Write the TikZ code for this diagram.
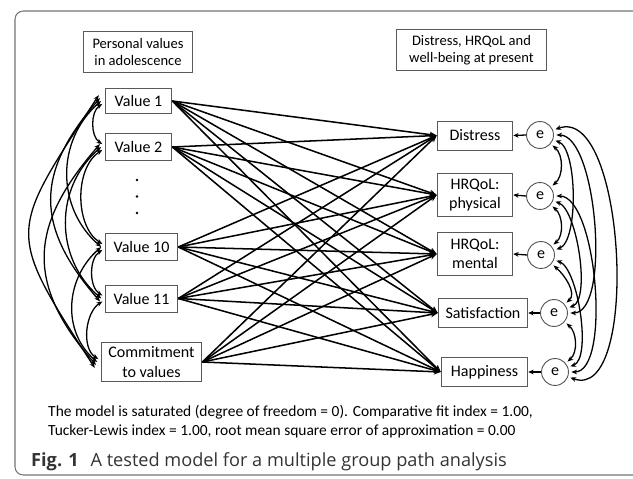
\documentclass[tikz,border=0pt]{standalone}
\usepackage{fontspec}
\setmainfont{Carlito}
\newfontfamily\capfont{Open Sans}
\usetikzlibrary{arrows.meta}
\definecolor{mgray}{rgb}{0.35, 0.35, 0.35}
\definecolor{fgray}{rgb}{0.45, 0.45, 0.45}
\definecolor{cgray}{rgb}{0.2, 0.2, 0.2}
\tikzset{box/.style = {draw=mgray, line width=0.8pt, align=center, inner sep=0,
                       minimum height=23pt, font=\fontsize{13.7}{16.5}\selectfont}}
\tikzset{head/.style = {box, font=\fontsize{12.4}{15}\selectfont}}
\tikzset{err/.style = {draw=mgray, line width=0.8pt, circle, inner sep=0,
                       minimum size=23pt, font=\fontsize{13.7}{16.5}\selectfont}}
\tikzset{effect/.style = {line width=1.3pt, -{Stealth[length=6pt, width=5pt]}}}
\tikzset{resid/.style = {line width=1.1pt, -{Stealth[length=4.5pt, width=4pt]}}}
\tikzset{covar/.style = {line width=1.1pt,
                         {Stealth[length=5pt, width=4pt]}-{Stealth[length=5pt, width=4pt]}}}
\tikzset{circ/.style = {fill, circle, inner sep = 0, minimum size = 2.4pt}}

\begin{document}
\begin{tikzpicture}[x=0.03cm, y=-0.03cm]
      \useasboundingbox (0, 0) rectangle (633, 479);
      \clip (0, 0) rectangle (633, 479);
      \draw [fgray, line width=0.9pt, rounded corners=7pt] (15, 11) rectangle (645, 475);

      % headers
      \node [head, minimum width=93.5pt, minimum height=35.7pt] (lhead) at (138, 52) {Personal values\\in adolescence};
      \node [head, minimum width=128pt, minimum height=35.7pt] (rhead) at (471.5, 50) {Distress, HRQoL and\\well-being at present};

      % values in adolescence
      \node [box, minimum width=57pt, minimum height=22pt] (v1) at (138.5, 101) {Value 1};
      \node [box, minimum width=57pt] (v2) at (138.5, 147) {Value 2};
      \node [box, minimum width=62pt] (v10) at (141.5, 247) {Value 10};
      \node [box, minimum width=62pt] (v11) at (141.5, 298.5) {Value 11};
      \node [box, minimum width=86pt, minimum height=34pt] (com) at (151.5, 362) {Commitment\\to values};
      \foreach \y in {180, 196.5, 213} {
        \node [circ] at (137, \y) {};
      }

      % outcomes at present
      \node [box, minimum width=64.6pt, minimum height=24.7pt] (dis) at (475, 135.5) {Distress};
      \node [box, minimum width=64.6pt, minimum height=37.4pt] (phy) at (475, 195) {HRQoL:\\physical};
      \node [box, minimum width=64.6pt, minimum height=37.4pt] (men) at (475, 254) {HRQoL:\\mental};
      \node [box, minimum width=76.5pt, minimum height=25.5pt] (sat) at (483, 313) {Satisfaction};
      \node [box, minimum width=74pt, minimum height=25.5pt] (hap) at (484.5, 372) {Happiness};

      \node [err] (edis) at (540, 135) {e};
      \node [err] (ephy) at (540, 196) {e};
      \node [err] (emen) at (541, 255) {e};
      \node [err] (esat) at (554, 313) {e};
      \node [err] (ehap) at (555, 372) {e};

      \foreach \a in {v1, v2, v10, v11, com} {
        \foreach \b in {dis, phy, men, sat, hap} {
          \draw [effect] (\a.east) -- (\b.west);
        }
      }
      \foreach \b in {dis, phy, men, sat, hap} {
        \draw [resid] (e\b.west) -- (\b.east);
      }

      % covariances between values
      \foreach \a/\b/\s/\l in {v1/v2/1/0.9, v2/v10/1/0.9, v10/v11/1/0.9, v11/com/1/0.9,
                               v1/v10/2/1.05, v2/v11/2/1.05, v10/com/2/1.05,
                               v1/v11/3/1.25, v2/com/3/1.25, v1/com/4/1.55} {
        \pgfmathsetmacro\oa{205 + 8*\s}
        \pgfmathsetmacro\ia{155 - 8*\s}
        \pgfmathsetmacro\dy{(\s - 2)*2.5}
        \draw [covar] ([xshift=-\s pt-1pt, yshift=\dy pt]\a.west)
          to [out=\oa, in=\ia, looseness=\l] ([xshift=-\s pt-1pt, yshift=-\dy pt]\b.west);
      }

      % covariances between residuals
      \foreach \a/\b/\s/\l in {edis/ephy/1/1.0, ephy/emen/1/1.0, emen/esat/1/1.0, esat/ehap/1/1.0,
                               edis/emen/2/0.6, ephy/esat/2/0.6, emen/ehap/2/0.6,
                               edis/esat/3/0.62, ephy/ehap/3/0.62, edis/ehap/4/0.8} {
        \pgfmathsetmacro\oa{-60 + 20*\s}
        \pgfmathsetmacro\ia{60 - 20*\s}
        \draw [covar, shorten <=2pt, shorten >=2pt] (\a.\oa)
          to [out=\oa, in=\ia, looseness=\l] (\b.\ia);
      }

      % fit and caption
      \node [anchor=base west, inner sep=0, font=\fontsize{13.2}{16}\selectfont] (fit1) at (48, 416)
        {The model is saturated (degree of freedom = 0). Comparative fit index = 1.00,};
      \node [anchor=base west, inner sep=0, font=\fontsize{13.2}{16}\selectfont] (fit2) at (48, 435)
        {Tucker-Lewis index = 1.00, root mean square error of approximation = 0.00};
      \node [anchor=base west, inner sep=0, text=cgray, font=\capfont\fontsize{15.5}{19}\selectfont] (cap) at (31, 466)
        {\textbf{Fig. 1}\hspace{6pt} A tested model for a multiple group path analysis};
    \end{tikzpicture}
\end{document}
